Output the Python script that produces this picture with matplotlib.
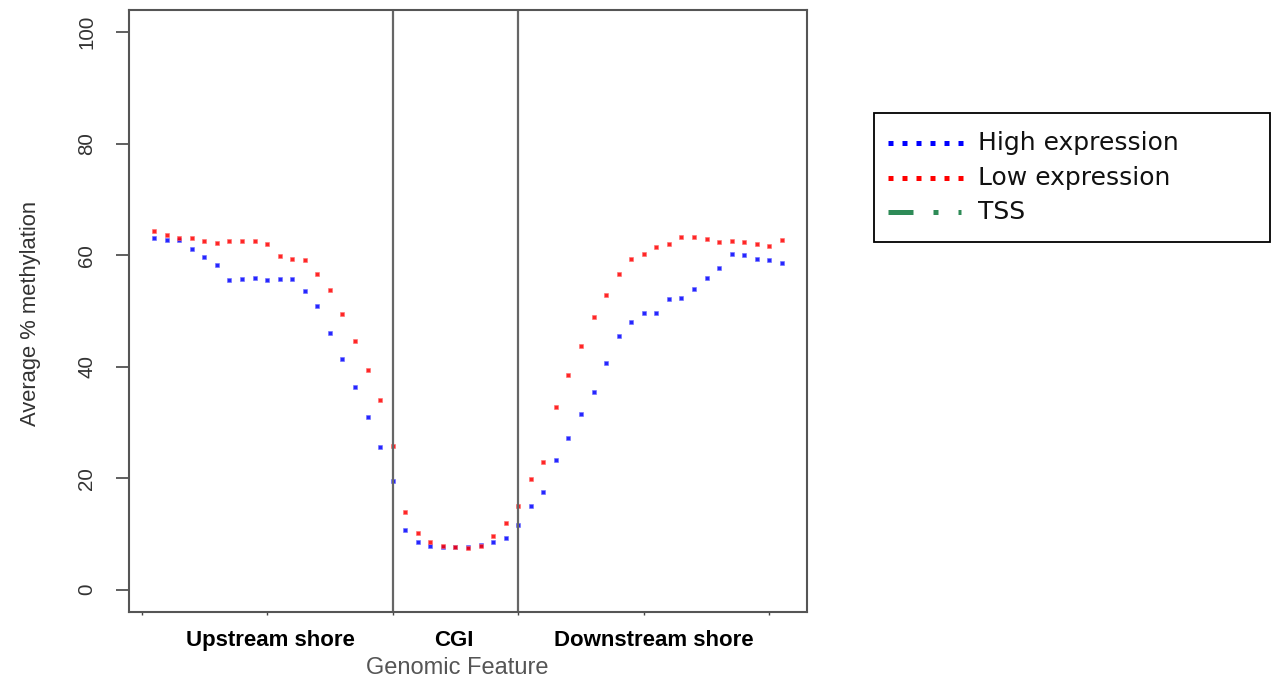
import numpy as np
import matplotlib
matplotlib.use("Agg")
import matplotlib.pyplot as plt
from matplotlib.lines import Line2D
from matplotlib.patches import Rectangle

# average % methylation per bin: 20 upstream shore, 10 CGI, 21 downstream shore
high = [63.1, 62.7, 62.7, 61.2, 59.7, 58.2, 55.6, 55.8, 55.9, 55.5,
        55.7, 55.8, 53.5, 50.9, 46.0, 41.3, 36.4, 30.9, 25.6, 19.5,
        10.7, 8.6, 7.8, 7.6, 7.7, 7.6, 8.1, 8.6, 9.2, 11.6,
        15.1, 17.5, 23.3, 27.2, 31.5, 35.5, 40.7, 45.5, 48.1, 49.7,
        49.7, 52.2, 52.4, 53.9, 55.9, 57.7, 60.3, 60.0, 59.4, 59.1, 58.7]
low = [64.3, 63.6, 63.1, 63.1, 62.6, 62.2, 62.5, 62.5, 62.5, 62.1,
       59.9, 59.4, 59.2, 56.7, 53.7, 49.4, 44.7, 39.4, 34.1, 25.8,
       13.9, 10.1, 8.5, 7.9, 7.7, 7.5, 7.9, 9.7, 11.9, 15.1,
       19.8, 23.0, 32.7, 38.5, 43.8, 48.9, 52.8, 56.6, 59.3, 60.3,
       61.5, 62.0, 63.2, 63.2, 62.9, 62.4, 62.6, 62.4, 62.0, 61.6, 62.8]
edges = [20, 30]
regions = ["Upstream shore", "CGI", "Downstream shore"]
region_pos = [10.25, 24.9, 40.8]
legend_labels = ["High expression", "Low expression", "TSS"]

W, H = 1273, 681
fig = plt.figure(figsize=(W / 100, H / 100), dpi=100)
ax = fig.add_axes([129 / W, 1 - 612 / H, (807 - 129) / W, (612 - 10) / H])

xs = np.arange(1, len(high) + 1)
ax.plot(xs, high, ls="none", marker="s", ms=2.2, mfc="#0000ff", mec="#7070ff", mew=0.5, alpha=0.85)
ax.plot(xs, low, ls="none", marker="s", ms=2.2, mfc="#ff0000", mec="#ff7070", mew=0.5, alpha=0.85)
for e in edges:
    ax.axvline(e, color="#666666", lw=1.6)

ax.set_xlim(-1, 53)
ax.set_ylim(-4, 104)
ax.set_yticks([0, 20, 40, 60, 80, 100])
ax.set_yticklabels(["0", "20", "40", "60", "80", "100"], rotation=90, va="center",
                   fontsize=14.8, color="#333333", family="Liberation Sans")
ax.tick_params(axis="y", length=9.5, width=1.2, color="#444444", pad=14)
ax.xaxis.remove_overlapping_locs = False
ax.set_xticks([0, 10, 20, 30, 40, 50])
ax.set_xticklabels([])
ax.tick_params(axis="x", which="major", length=2.5, width=1.0, color="#444444")
ax.set_xticks(region_pos, minor=True)
ax.set_xticklabels(regions, minor=True, fontsize=16, fontweight="bold", family="Liberation Sans")
ax.tick_params(axis="x", which="minor", length=0, pad=13)

for s in ax.spines.values():
    s.set_color("#555555")
    s.set_linewidth(1.5)

fig.text(31 / W, 1 - 313 / H, "Average % methylation", rotation=90, ha="center", va="center",
         fontsize=15.8, color="#333333", family="Liberation Sans")
fig.text(457 / W, 1 - 668 / H, "Genomic Feature", ha="center", va="center",
         fontsize=17, color="#555555", family="Liberation Sans")

# legend box drawn by hand to match the wide R frame
fig.add_artist(Rectangle((874 / W, 1 - 242 / H), 396 / W, 129 / H, transform=fig.transFigure,
                         fill=False, ec="black", lw=1.3))
styles = [("#0000ff", (0, (1, 1.8)), 971), ("#ff0000", (0, (1, 1.8)), 971),
          ("#2e8b57", (0, (5, 4, 1, 4)), 961)]
rows = [143, 178, 212]
for (c, ls, x1), lab, r in zip(styles, legend_labels, rows):
    y = 1 - r / H
    fig.add_artist(Line2D([888 / W, x1 / W], [y, y], transform=fig.transFigure,
                          color=c, lw=3.6, linestyle=ls))
    fig.text(978 / W, y, lab, ha="left", va="center", fontsize=18, color="#111111")

fig.savefig("out.png", dpi=100)
